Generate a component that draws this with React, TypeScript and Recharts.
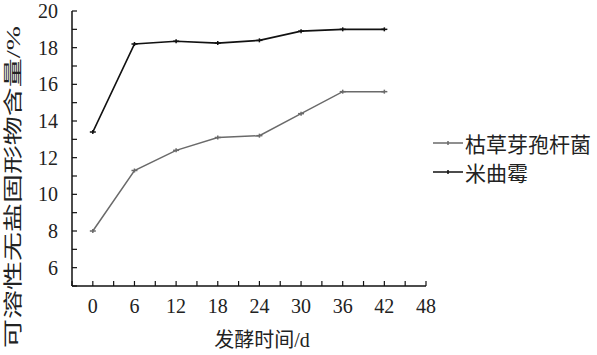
import React from 'react';
import { LineChart, Line, XAxis, YAxis } from 'recharts';

// fermentation time (d) and soluble salt-free solids (%)
const days = [0, 6, 12, 18, 24, 30, 36, 42];
const bacillus = [8.0, 11.3, 12.4, 13.1, 13.2, 14.4, 15.6, 15.6];
const aspergillus = [13.4, 18.2, 18.35, 18.25, 18.4, 18.9, 19.0, 19.0];

const xTicks = [-3, 0, 3, 6, 9, 12, 15, 18, 21, 24, 27, 30, 33, 36, 39, 42, 45, 48];
const yTicks = [5, 6, 7, 8, 9, 10, 11, 12, 13, 14, 15, 16, 17, 18, 19, 20];

const seriesNames = ['枯草芽孢杆菌', '米曲霉'];
const seriesColors = ['#6a6a6a', '#111111'];

const data = days.map((d, i) => ({ day: d, bacillus: bacillus[i], aspergillus: aspergillus[i] }));

const FONT = "'Liberation Serif', 'Noto Sans CJK SC', serif";

const Marker = (props: any) => {
  const { cx, cy, stroke } = props;
  if (cx == null || cy == null) return null;
  return (
    <g>
      <line x1={cx - 3} x2={cx + 3} y1={cy} y2={cy} stroke={stroke} strokeWidth={1.5} />
      <line x1={cx} x2={cx} y1={cy - 2} y2={cy + 2} stroke={stroke} strokeWidth={1.5} />
    </g>
  );
};

const LegendBox = () => (
  <div style={{ position: 'absolute', left: 432, top: 128, fontFamily: FONT, fontSize: 21, color: '#222' }}>
    {seriesNames.map((n, i) => (
      <div key={n} style={{ display: 'flex', alignItems: 'center', height: 29, whiteSpace: 'nowrap' }}>
        <svg width={32} height={10} style={{ marginRight: 1 }}>
          <line x1={1} x2={31} y1={5} y2={5} stroke={seriesColors[i]} strokeWidth={1.5} />
          <line x1={16} x2={16} y1={3} y2={7} stroke={seriesColors[i]} strokeWidth={1.5} />
        </svg>
        <span>{n}</span>
      </div>
    ))}
  </div>
);

export default function App() {
  return (
    <div style={{ position: 'absolute', left: 0, top: 0, width: 597, height: 355, background: '#fff' }}>
      <LineChart width={597} height={355} data={data} margin={{ top: 11, right: 171, left: 0, bottom: 0 }}>
        <XAxis
          dataKey="day"
          type="number"
          domain={[-3, 48]}
          ticks={xTicks}
          interval={0}
          height={69}
          tickFormatter={(v: number) => (v >= 0 && v % 6 === 0 ? String(v) : '')}
          tickSize={-5}
          tickMargin={18}
          axisLine={{ stroke: '#111', strokeWidth: 1.5 }}
          tickLine={{ stroke: '#111', strokeWidth: 1.2 }}
          tick={{ fill: '#222', fontSize: 20, fontFamily: FONT }}
          label={{
            content: () => (
              <text x={262} y={347} textAnchor="middle" fontSize={20} fontFamily={FONT} fill="#222">
                发酵时间/d
              </text>
            ),
          }}
        />
        <YAxis
          type="number"
          domain={[5, 20]}
          ticks={yTicks}
          interval={0}
          width={72}
          tickFormatter={(v: number) => (v % 2 === 0 ? String(v) : '')}
          tickSize={-5}
          tickMargin={19}
          axisLine={{ stroke: '#111', strokeWidth: 1.5 }}
          tickLine={{ stroke: '#111', strokeWidth: 1.2 }}
          tick={{ fill: '#222', fontSize: 20, fontFamily: FONT }}
          label={{
            content: () => (
              <text
                x={0}
                y={0}
                transform="translate(20,187) rotate(-90)"
                textAnchor="middle"
                fontSize={19}
                fontFamily={FONT}
                fill="#222"
                textLength={322}
                lengthAdjust="spacingAndGlyphs"
              >
                可溶性无盐固形物含量/%
              </text>
            ),
          }}
        />
        <Line
          dataKey="bacillus"
          name={seriesNames[0]}
          stroke={seriesColors[0]}
          strokeWidth={1.5}
          dot={<Marker />}
          isAnimationActive={false}
        />
        <Line
          dataKey="aspergillus"
          name={seriesNames[1]}
          stroke={seriesColors[1]}
          strokeWidth={1.7}
          dot={<Marker />}
          isAnimationActive={false}
        />
      </LineChart>
      <LegendBox />
    </div>
  );
}
